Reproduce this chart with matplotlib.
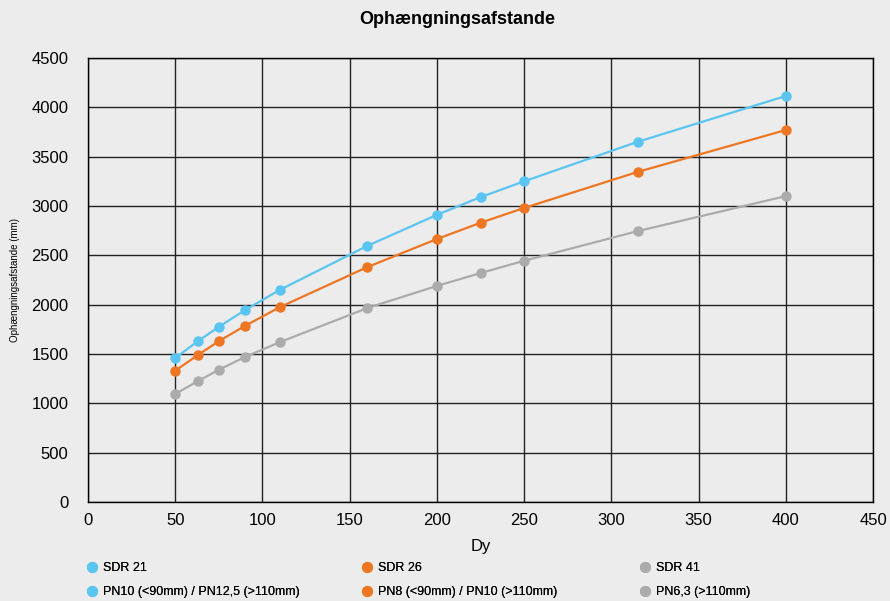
import matplotlib.pyplot as plt
from matplotlib.lines import Line2D

plt.rcParams['font.family'] = ['Liberation Sans', 'DejaVu Sans']

dy = [50, 63, 75, 90, 110, 160, 200, 225, 250, 315, 400]
sdr21 = [1460, 1630, 1775, 1945, 2150, 2595, 2910, 3090, 3250, 3650, 4115]
sdr26 = [1330, 1490, 1630, 1785, 1975, 2380, 2665, 2830, 2980, 3345, 3770]
sdr41 = [1095, 1225, 1340, 1470, 1620, 1965, 2190, 2320, 2445, 2745, 3100]

labels_top = ['SDR 21', 'SDR 26', 'SDR 41']
labels_bottom = ['PN10 (<90mm) / PN12,5 (>110mm)', 'PN8 (<90mm) / PN10 (>110mm)', 'PN6,3 (>110mm)']
colors = ['#5bc5f2', '#ee7623', '#ababab']
legend_x = [79, 354, 632]

bg = '#ececec'
fig = plt.figure(figsize=(8.9, 6.01), dpi=100, facecolor=bg)
ax = fig.add_axes([88/890, 1 - 502/601, 785/890, 444/601], facecolor=bg)

for y, c in zip([sdr21, sdr26, sdr41], colors):
    ax.plot(dy, y, color=c, lw=1.6, marker='o', ms=6.5, zorder=3)

ax.set_xlim(0, 450)
ax.set_ylim(0, 4500)
ax.set_xticks(range(0, 451, 50))
ax.set_yticks(range(0, 4501, 500))
ax.grid(True, color='#222222', lw=1.0)
for s in ax.spines.values():
    s.set_color('black')
    s.set_linewidth(1.0)
ax.tick_params(length=0, labelsize=12, pad=8)
ax.tick_params(axis='y', pad=14)
ax.set_xlabel('Dy', fontsize=12, labelpad=8)
fig.text(15/890, 1 - 280/601, 'Ophængningsafstande (mm)', rotation=90, fontsize=7,
         ha='center', va='center')
fig.text(457/890, 1 - 20/601, 'Ophængningsafstande', fontsize=13, fontweight='bold',
         ha='center', va='center')

for c, a, b, x in zip(colors, labels_top, labels_bottom, legend_x):
    h = Line2D([], [], ls='none', marker='o', ms=7, color=c)
    leg = fig.legend([h, h], [a, b], loc='upper left', bbox_to_anchor=(x/890, 1 - 557/601),
                     frameon=False, fontsize=9, handletextpad=0.3, handlelength=1.2,
                     labelspacing=1.0, borderaxespad=0)
    fig.add_artist(leg)

fig.savefig('out.png', dpi=100, facecolor=bg)
